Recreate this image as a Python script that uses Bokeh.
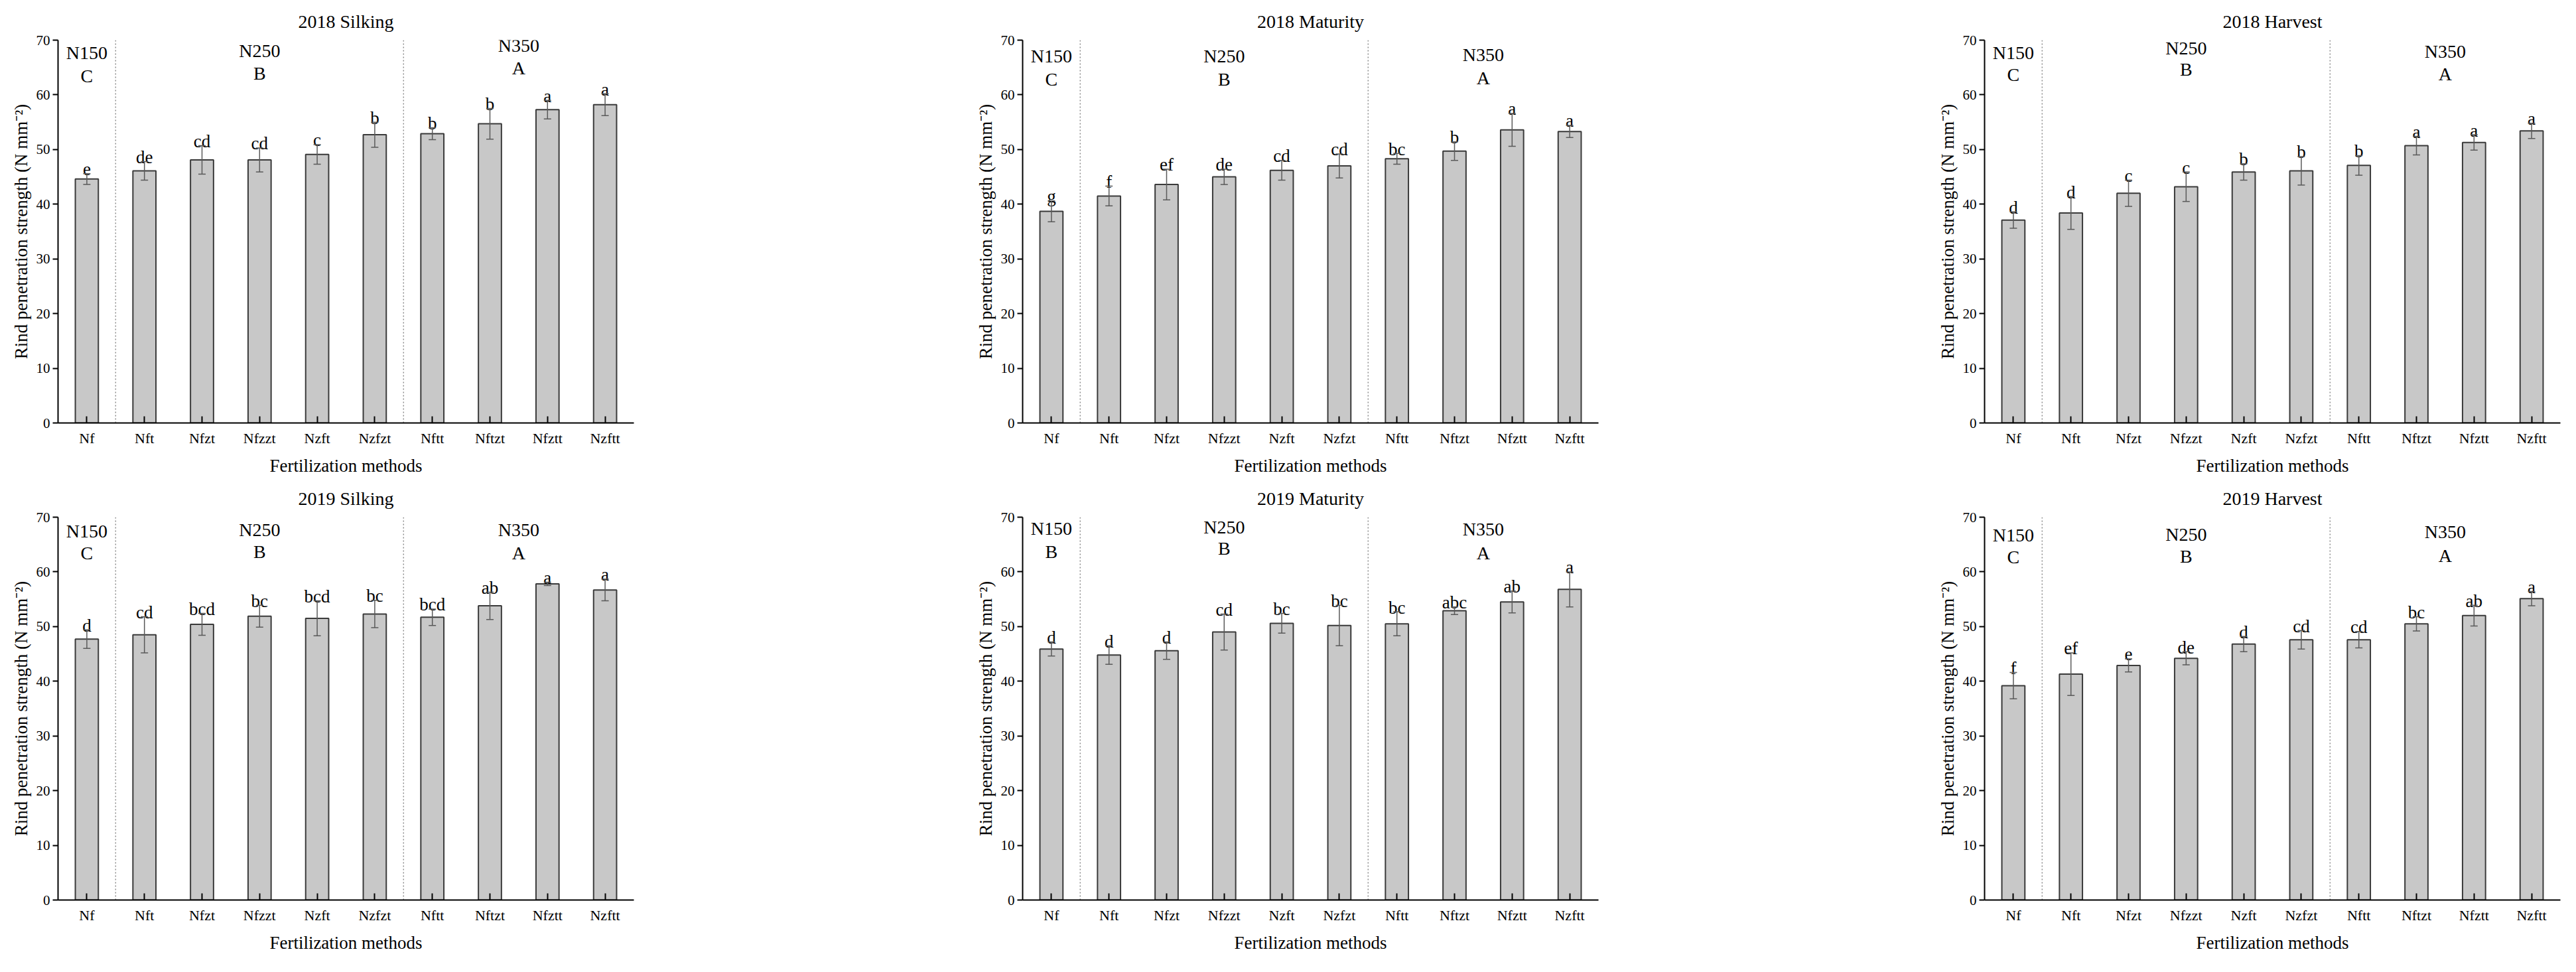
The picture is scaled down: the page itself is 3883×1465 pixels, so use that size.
from bokeh.plotting import figure
from bokeh.models import (ColumnDataSource, FactorRange, Range1d, FixedTicker,
                          Whisker, TeeHead, LabelSet, Title)
from bokeh.layouts import column, row
from bokeh.core.properties import value
from bokeh.embed import file_html
from bokeh.resources import INLINE

# ---------------- data ----------------
categories = ["Nf", "Nft", "Nfzt", "Nfzzt", "Nzft", "Nzfzt", "Nftt", "Nftzt", "Nfztt", "Nzftt"]
group_names = ["N150", "N250", "N350"]
group_sizes = [1, 5, 4]
y_ticks = [0, 10, 20, 30, 40, 50, 60, 70]

titles = ["2018 Silking", "2018 Maturity", "2018 Harvest",
          "2019 Silking", "2019 Maturity", "2019 Harvest"]

s18_mean = [44.6, 46.1, 48.1, 48.1, 49.1, 52.7, 52.9, 54.7, 57.3, 58.2]
s18_err = [1.0, 1.7, 2.6, 2.2, 1.8, 2.3, 1.1, 2.8, 1.7, 2.0]
s18_let = ["e", "de", "cd", "cd", "c", "b", "b", "b", "a", "a"]
s18_grp = ["C", "B", "A"]

m18_mean = [38.7, 41.5, 43.6, 45.0, 46.2, 47.0, 48.3, 49.7, 53.6, 53.3]
m18_err = [1.9, 1.8, 2.8, 1.4, 1.8, 2.2, 1.0, 1.7, 3.0, 1.1]
m18_let = ["g", "f", "ef", "de", "cd", "cd", "bc", "b", "a", "a"]
m18_grp = ["C", "B", "A"]

h18_mean = [37.1, 38.4, 42.0, 43.2, 45.9, 46.1, 47.1, 50.7, 51.3, 53.4]
h18_err = [1.5, 3.0, 2.4, 2.7, 1.5, 2.6, 1.8, 1.7, 1.4, 1.4]
h18_let = ["d", "d", "c", "c", "b", "b", "b", "a", "a", "a"]
h18_grp = ["C", "B", "A"]

s19_mean = [47.7, 48.5, 50.4, 51.9, 51.5, 52.3, 51.7, 53.8, 57.8, 56.7]
s19_err = [1.7, 3.3, 2.0, 2.0, 3.2, 2.5, 1.5, 2.5, 0.3, 2.0]
s19_let = ["d", "cd", "bcd", "bc", "bcd", "bc", "bcd", "ab", "a", "a"]
s19_grp = ["C", "B", "A"]

m19_mean = [45.9, 44.8, 45.6, 49.0, 50.6, 50.2, 50.5, 52.9, 54.5, 56.8]
m19_err = [1.3, 1.7, 1.6, 3.3, 1.8, 3.7, 2.2, 0.7, 2.0, 3.2]
m19_let = ["d", "d", "d", "cd", "bc", "bc", "bc", "abc", "ab", "a"]
m19_grp = ["B", "B", "A"]

h19_mean = [39.2, 41.3, 42.9, 44.2, 46.8, 47.6, 47.6, 50.5, 52.0, 55.1]
h19_err = [2.4, 3.9, 1.2, 1.2, 1.4, 1.7, 1.5, 1.3, 1.9, 1.3]
h19_let = ["f", "ef", "e", "de", "d", "cd", "cd", "bc", "ab", "a"]
h19_grp = ["C", "B", "A"]

means = [s18_mean, m18_mean, h18_mean, s19_mean, m19_mean, h19_mean]
errs = [s18_err, m18_err, h18_err, s19_err, m19_err, h19_err]
lets = [s18_let, m18_let, h18_let, s19_let, m19_let, h19_let]
grps = [s18_grp, m18_grp, h18_grp, s19_grp, m19_grp, h19_grp]

# ---------------- layout / style ----------------
FONT = "Liberation Serif"
# vertical positions (in axis units) of the group name / group letter per panel
name_y = [[67.7, 68.0, 69.0], [67.1, 67.1, 67.3], [67.7, 68.6, 67.9],
          [67.5, 67.7, 67.7], [67.9, 68.2, 67.8], [66.7, 66.8, 67.3]]
grp_y = [[63.5, 63.9, 64.9], [62.9, 62.9, 63.1], [63.7, 64.7, 63.8],
         [63.4, 63.7, 63.4], [63.7, 64.3, 63.4], [62.7, 62.8, 63.0]]
fig_w = [1454, 1450, 963]
FRAME_W = 868
BL = 87

# derived group geometry
bounds = []
centers = []
acc = 0
for gs in group_sizes:
    centers.append(acc + gs / 2.0)
    acc += gs
    bounds.append(acc)
sep = bounds[:-1]


def make_panel(i):
    w = fig_w[i % 3]
    p = figure(x_range=FactorRange(factors=categories), y_range=Range1d(0, 70),
               width=w, height=719, output_backend="svg", toolbar_location=None,
               min_border_left=BL, min_border_right=w - BL - FRAME_W,
               min_border_top=60, min_border_bottom=77)
    p.outline_line_color = None
    p.xgrid.grid_line_color = None
    p.ygrid.grid_line_color = None

    p.add_layout(Title(text=titles[i], align="center", vertical_align="middle",
                       standoff=23, text_font=FONT, text_font_size="28px",
                       text_font_style="normal", text_color="black"), "above")

    mean = means[i]
    err = errs[i]
    src = ColumnDataSource(dict(
        cat=categories, mean=mean,
        lo=[m - e for m, e in zip(mean, err)],
        hi=[m + e for m, e in zip(mean, err)],
        ly=[m + e + 0.8 for m, e in zip(mean, err)],
        let=lets[i]))

    # dotted separators between nitrogen levels
    p.segment(x0=sep, x1=sep, y0=[0] * len(sep), y1=[70] * len(sep),
              line_color="#8c8c8c", line_dash="2 3", line_width=1.5)

    p.vbar(x="cat", top="mean", width=0.4, source=src,
           fill_color="#c8c8c8", line_color="#3a3a3a", line_width=2)

    wk = Whisker(base="cat", upper="hi", lower="lo", source=src,
                 line_color="#5a5a5a", line_width=1.5, level="annotation",
                 upper_head=TeeHead(size=11, line_color="#5a5a5a", line_width=1.5),
                 lower_head=TeeHead(size=11, line_color="#5a5a5a", line_width=1.5))
    p.add_layout(wk)

    p.text(x="cat", y="ly", text="let", source=src, text_align="center",
           text_baseline="alphabetic", text_font=value(FONT),
           text_font_size="27px", text_color="black")

    gsrc = ColumnDataSource(dict(x=centers, ny=name_y[i], gy=grp_y[i],
                                 name=group_names, g=grps[i]))
    p.add_layout(LabelSet(x="x", y="ny", text="name", source=gsrc,
                          text_align="center", text_baseline="middle",
                          text_font=value(FONT), text_font_size=value("28px"),
                          text_color="black"))
    p.add_layout(LabelSet(x="x", y="gy", text="g", source=gsrc,
                          text_align="center", text_baseline="middle",
                          text_font=value(FONT), text_font_size=value("28px"),
                          text_color="black"))

    xa = p.xaxis[0]
    xa.axis_label = "Fertilization methods"
    xa.axis_label_text_font = FONT
    xa.axis_label_text_font_style = "normal"
    xa.axis_label_text_font_size = "27px"
    xa.axis_label_text_color = "black"
    xa.axis_label_standoff = 11
    xa.major_label_text_font = FONT
    xa.major_label_text_font_size = "22px"
    xa.major_label_text_color = "black"
    xa.major_label_standoff = 10
    xa.major_tick_in = 10
    xa.major_tick_out = 0
    xa.major_tick_line_width = 2
    xa.major_tick_line_color = "black"
    xa.axis_line_width = 2
    xa.axis_line_color = "black"
    xa.minor_tick_line_color = None

    ya = p.yaxis[0]
    ya.ticker = FixedTicker(ticks=y_ticks)
    ya.axis_label = "Rind penetration strength (N mm\u207b\u00b2)"
    ya.axis_label_text_font = FONT
    ya.axis_label_text_font_style = "normal"
    ya.axis_label_text_font_size = "27px"
    ya.axis_label_text_color = "black"
    ya.axis_label_standoff = 5
    ya.major_label_text_font = FONT
    ya.major_label_text_font_size = "21px"
    ya.major_label_text_color = "black"
    ya.major_label_standoff = 4
    ya.major_tick_in = 0
    ya.major_tick_out = 8
    ya.major_tick_line_width = 2
    ya.major_tick_line_color = "black"
    ya.axis_line_width = 2
    ya.axis_line_color = "black"
    ya.minor_tick_line_color = None
    return p


panels = [make_panel(i) for i in range(6)]
layout = column(row(*panels[:3]), row(*panels[3:]))

open("out.html", "w").write(file_html(layout, INLINE, title="Rind penetration strength"))
